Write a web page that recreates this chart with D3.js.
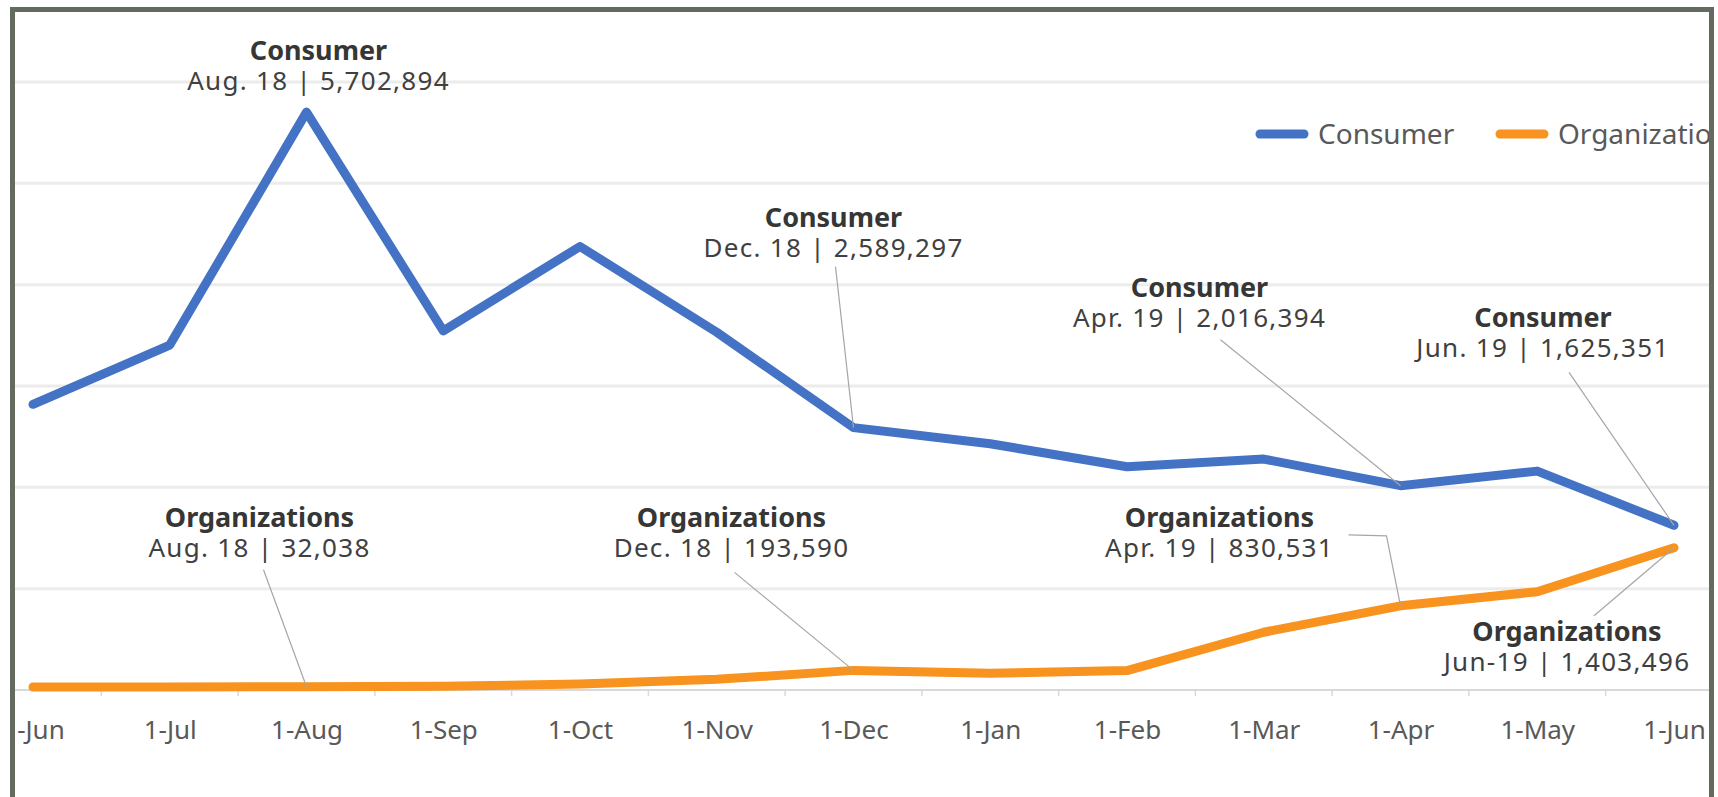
<!DOCTYPE html>
<html lang="en">
<head>
<meta charset="UTF-8">
<title>Consumer vs Organizations</title>
<script src="https://cdn.jsdelivr.net/npm/d3@7"></script>
<style>
    body { margin: 0; background: #fff; }
    svg { display: block; font-family: "Noto Sans", "Open Sans", sans-serif; }
</style>
</head>
<body>
<script>
    // 类目（月份）
    const months = ['1-Jun', '1-Jul', '1-Aug', '1-Sep', '1-Oct', '1-Nov', '1-Dec',
        '1-Jan', '1-Feb', '1-Mar', '1-Apr', '1-May', '1-Jun'];
    const consumer = [2819000, 3404000, 5702894, 3544000, 4377000, 3530000, 2589297,
        2430000, 2203000, 2279000, 2016394, 2160000, 1625351];
    const organizations = [30000, 30000, 32038, 36000, 58000, 105000, 193590,
        165000, 192000, 570000, 830531, 970000, 1403496];
    const gridValues = [1000000, 2000000, 3000000, 4000000, 5000000, 6000000];
    const seriesNames = ['Consumer', 'Organizations'];

    // 标注：系列、月份序号、日期文字
    const notes = [
        {s: 0, i: 2, date: 'Aug. 18'},
        {s: 0, i: 6, date: 'Dec. 18'},
        {s: 0, i: 10, date: 'Apr. 19'},
        {s: 0, i: 12, date: 'Jun. 19'},
        {s: 1, i: 2, date: 'Aug. 18'},
        {s: 1, i: 6, date: 'Dec. 18'},
        {s: 1, i: 10, date: 'Apr. 19'},
        {s: 1, i: 12, date: 'Jun-19'}
    ];
    // 标注文字相对数据点的偏移（像素），以及引线起点
    const noteLayout = [
        {dx: 12, dy: -52, lead: null},
        {dx: -20, dy: -201, lead: [[-18, -161]]},
        {dx: -201, dy: -189, lead: [[-180, -146]]},
        {dx: -131, dy: -198, lead: [[-105, -153]]},
        {dx: -47, dy: -160, lead: [[-43, -117]]},
        {dx: -122, dy: -143, lead: [[-119, -98]]},
        {dx: -181, dy: -79, lead: [[-52, -71], [-14, -70]]},
        {dx: -107, dy: 93, lead: [[-80, 68]]}
    ];

    const W = 1718, H = 797;
    const colors = ['#4472C4', '#F7931E'];
    const values = [consumer, organizations];

    const svg = d3.select('body').append('svg')
        .attr('width', W)
        .attr('height', H);

    // 外框内部区域
    const inner = {x0: 15, x1: 1709, y0: 12, y1: H};
    svg.append('clipPath').attr('id', 'frame-clip')
        .append('rect')
        .attr('x', inner.x0).attr('y', inner.y0)
        .attr('width', inner.x1 - inner.x0).attr('height', inner.y1 - inner.y0);

    const g = svg.append('g').attr('clip-path', 'url(#frame-clip)');

    const x = d3.scalePoint()
        .domain(d3.range(months.length))
        .range([33, 1674]);
    const y = d3.scaleLinear()
        .domain([0, 6000000])
        .range([690, 82]);

    // 网格线
    g.selectAll('line.grid')
        .data(gridValues)
        .enter()
        .append('line')
        .attr('class', 'grid')
        .attr('x1', inner.x0).attr('x2', inner.x1)
        .attr('y1', d => y(d)).attr('y2', d => y(d))
        .attr('stroke', '#ececec')
        .attr('stroke-width', 3);

    // 横轴
    const xAxis = d3.axisBottom(x)
        .tickSize(0)
        .tickPadding(31)
        .tickFormat(i => months[i]);
    const ax = g.append('g')
        .attr('transform', `translate(0,${y(0)})`)
        .call(xAxis);
    ax.select('.domain').remove();
    ax.selectAll('text')
        .attr('fill', '#595959')
        .attr('font-size', 26)
        .attr('font-family', '"Noto Sans", sans-serif');

    g.append('line')
        .attr('x1', inner.x0).attr('x2', inner.x1)
        .attr('y1', y(0)).attr('y2', y(0))
        .attr('stroke', '#d9d9d9')
        .attr('stroke-width', 2);

    // 刻度线放在两个类目中间
    const step = x.step();
    g.selectAll('line.tick-mark')
        .data(d3.range(months.length + 1))
        .enter()
        .append('line')
        .attr('class', 'tick-mark')
        .attr('x1', i => x(0) + (i - 0.5) * step)
        .attr('x2', i => x(0) + (i - 0.5) * step)
        .attr('y1', y(0)).attr('y2', y(0) + 6)
        .attr('stroke', '#d9d9d9')
        .attr('stroke-width', 1.5);

    // 折线
    const line = d3.line()
        .x((d, i) => x(i))
        .y(d => y(d));

    g.selectAll('path.series')
        .data(values)
        .enter()
        .append('path')
        .attr('class', 'series')
        .attr('d', d => line(d))
        .attr('fill', 'none')
        .attr('stroke', (d, k) => colors[k])
        .attr('stroke-width', 9)
        .attr('stroke-linejoin', 'round')
        .attr('stroke-linecap', 'round');

    // 图例
    const legend = g.selectAll('g.legend')
        .data(seriesNames)
        .enter()
        .append('g')
        .attr('class', 'legend')
        .attr('transform', (d, k) => `translate(${1260 + k * 240},134)`);
    legend.append('line')
        .attr('x1', 0).attr('x2', 44)
        .attr('stroke', (d, k) => colors[k])
        .attr('stroke-width', 9)
        .attr('stroke-linecap', 'round');
    legend.append('text')
        .attr('x', 58)
        .attr('dy', '0.35em')
        .attr('font-size', 28)
        .attr('fill', '#595959')
        .text(d => d);

    // 数据标注
    const fmt = d3.format(',');
    const ng = g.selectAll('g.note')
        .data(notes)
        .enter()
        .append('g')
        .attr('class', 'note');

    ng.each(function (d, k) {
        const px = x(d.i), py = y(values[d.s][d.i]);
        const lay = noteLayout[k];
        const sel = d3.select(this);
        if (lay.lead) {
            const pts = lay.lead.map(p => [px + p[0], py + p[1]]).concat([[px, py]]);
            sel.append('path')
                .attr('d', d3.line()(pts))
                .attr('fill', 'none')
                .attr('stroke', '#a6a6a6')
                .attr('stroke-width', 1.2);
        }
        // 两行文字放在同一个 text 里
        const t = sel.append('text')
            .attr('x', px + lay.dx)
            .attr('y', py + lay.dy)
            .attr('text-anchor', 'middle');
        t.append('tspan')
            .attr('x', px + lay.dx)
            .attr('font-size', 27)
            .attr('font-weight', 'bold')
            .attr('fill', '#363636')
            .text(seriesNames[d.s]);
        t.append('tspan')
            .attr('x', px + lay.dx)
            .attr('dy', 30)
            .attr('font-size', 26)
            .attr('letter-spacing', 1.3)
            .attr('fill', '#404040')
            .text(d.date + ' | ' + fmt(values[d.s][d.i]));
    });

    // 外框
    svg.append('rect')
        .attr('x', 12.5).attr('y', 9.5)
        .attr('width', 1699).attr('height', H + 20)
        .attr('fill', 'none')
        .attr('stroke', '#636b5e')
        .attr('stroke-width', 5);
</script>
</body>
</html>
